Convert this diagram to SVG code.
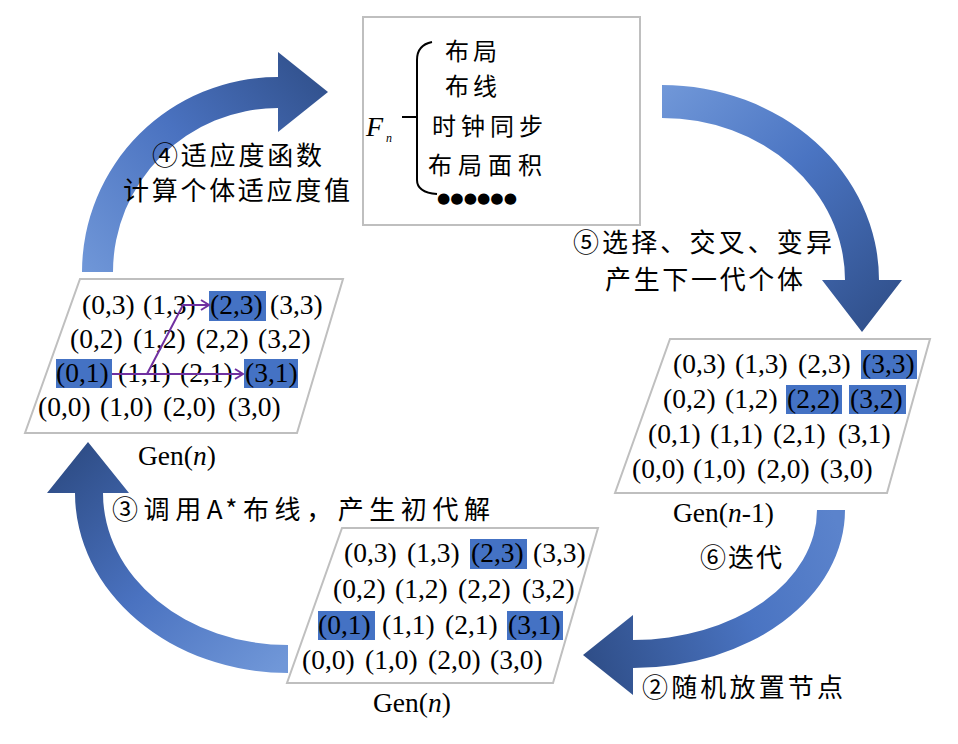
<svg xmlns="http://www.w3.org/2000/svg" width="958" height="744" viewBox="0 0 958 744">
<style>
.cn{font-family:"Noto Sans CJK SC","Noto Sans",sans-serif;fill:#000}
.lbl{font-size:26px}
.box{font-size:24px}
.num{font-family:"Liberation Serif","Times New Roman",serif;font-size:27.5px;fill:#000}
.frame{fill:#fff;stroke:#bfbfbf;stroke-width:2}
.hl{fill:#4472c4}
.pa{fill:none;stroke:#7030a0;stroke-width:2}
</style>
<defs>
<linearGradient id="g4" gradientUnits="userSpaceOnUse" x1="82" y1="272" x2="328" y2="60">
<stop offset="0" stop-color="#7097d8"/><stop offset="0.5" stop-color="#4a72c0"/><stop offset="1" stop-color="#2f4e88"/>
</linearGradient>
<linearGradient id="g5" gradientUnits="userSpaceOnUse" x1="662" y1="90" x2="890" y2="330">
<stop offset="0" stop-color="#7097d8"/><stop offset="0.45" stop-color="#4a74c2"/><stop offset="1" stop-color="#2f4e88"/>
</linearGradient>
<linearGradient id="g6" gradientUnits="userSpaceOnUse" x1="850" y1="560" x2="585" y2="655">
<stop offset="0" stop-color="#5b83cc"/><stop offset="0.4" stop-color="#4a74c2"/><stop offset="1" stop-color="#2f4e88"/>
</linearGradient>
<linearGradient id="g3" gradientUnits="userSpaceOnUse" x1="288" y1="660" x2="88" y2="442">
<stop offset="0" stop-color="#7097d8"/><stop offset="0.5" stop-color="#4a72c0"/><stop offset="1" stop-color="#2f4e88"/>
</linearGradient>
<marker id="pm" markerUnits="userSpaceOnUse" markerWidth="12" markerHeight="12" refX="9" refY="6" orient="auto">
<path d="M1,1 L9,6 L1,11" fill="none" stroke="#7030a0" stroke-width="2"/>
</marker>
</defs>
<rect width="958" height="744" fill="#fff"/>

<g id="connectors">
<path id="arrow4" d="M82,272 A196,195 0 0 1 278,77 L278,52 L328,92 L278,132 L278,108 A165,164 0 0 0 113,272 Z" fill="url(#g4)"/>
<path id="arrow5" d="M662,85 A217,195 0 0 1 879,280 L902,280 L862,332 L822,280 L845,280 A183,162 0 0 0 662,118 Z" fill="url(#g5)"/>
<path id="arrow6" d="M845,510 A212,158 0 0 1 633,668 L633,695 L583,655 L633,615 L633,640 A184,130 0 0 0 817,510 Z" fill="url(#g6)"/>
<path id="arrow3" d="M288,673 A213,180 0 0 1 75,493 L47,493 L88,442 L129,493 L103,493 A185,152 0 0 0 288,645 Z" fill="url(#g3)"/>
</g>

<g id="fitness-box">
<rect x="363" y="17" width="277" height="208" class="frame"/>
<text x="366" y="136" font-family="Liberation Serif, serif" font-style="italic" font-size="28">F</text>
<text x="386" y="142" font-family="Liberation Serif, serif" font-style="italic" font-size="12">n</text>
<path d="M402,117 L417,117 M432,42 C422,44 417,50 417,60 L417,180 C417,188 424,193 437,194" fill="none" stroke="#000" stroke-width="2"/>
<text class="cn box" x="445" y="60" textLength="52">布局</text>
<text class="cn box" x="445" y="95" textLength="52">布线</text>
<text class="cn box" x="432" y="135" textLength="111">时钟同步</text>
<text class="cn box" x="428" y="174" textLength="114">布局面积</text>
<text x="437" y="203" font-family="DejaVu Sans, sans-serif" font-size="15" textLength="80" lengthAdjust="spacingAndGlyphs">●●●●●●</text>
</g>

<g id="label4">
<text class="cn lbl" x="152" y="165" textLength="170">④适应度函数</text>
<text class="cn lbl" x="123" y="200" textLength="227">计算个体适应度值</text>
</g>
<g id="label5">
<text class="cn lbl" x="573" y="252" textLength="259">⑤选择、交叉、变异</text>
<text class="cn lbl" x="605" y="289" textLength="198">产生下一代个体</text>
</g>
<g id="label6">
<text class="cn lbl" x="700" y="567" textLength="82">⑥迭代</text>
</g>
<g id="label2">
<text class="cn lbl" x="642" y="697" textLength="201">②随机放置节点</text>
</g>
<g id="label3">
<text class="cn lbl" x="112" y="519" textLength="378">③调用A*布线，产生初代解</text>
</g>

<g id="gen-left">
<polygon points="80,279 343,279 297,433 25,433" class="frame"/>
<rect class="hl" x="209" y="291" width="57" height="30"/>
<rect class="hl" x="56" y="359" width="56" height="29"/>
<rect class="hl" x="244" y="359" width="54" height="29"/>
<text class="num" y="314"><tspan x="82">(0,3)</tspan><tspan x="143">(1,3)</tspan><tspan x="210">(2,3)</tspan><tspan x="270">(3,3)</tspan></text>
<text class="num" y="348"><tspan x="70">(0,2)</tspan><tspan x="133">(1,2)</tspan><tspan x="196">(2,2)</tspan><tspan x="258">(3,2)</tspan></text>
<text class="num" y="382"><tspan x="56">(0,1)</tspan><tspan x="118">(1,1)</tspan><tspan x="180">(2,1)</tspan><tspan x="245">(3,1)</tspan></text>
<text class="num" y="416"><tspan x="38">(0,0)</tspan><tspan x="100">(1,0)</tspan><tspan x="163">(2,0)</tspan><tspan x="228">(3,0)</tspan></text>
<path class="pa" d="M112,374 L243,374" marker-end="url(#pm)"/>
<path class="pa" d="M147,374 L183,305 L209,305" marker-end="url(#pm)"/>
<text class="num" x="138" y="465">Gen(<tspan font-style="italic">n</tspan>)</text>
</g>

<g id="gen-right">
<polygon points="670,339 930,339 887,493 615,493" class="frame"/>
<rect class="hl" x="861" y="350" width="56" height="29"/>
<rect class="hl" x="786" y="385" width="56" height="29"/>
<rect class="hl" x="849" y="385" width="57" height="29"/>
<text class="num" y="373"><tspan x="673">(0,3)</tspan><tspan x="735">(1,3)</tspan><tspan x="798">(2,3)</tspan><tspan x="862">(3,3)</tspan></text>
<text class="num" y="408"><tspan x="663">(0,2)</tspan><tspan x="725">(1,2)</tspan><tspan x="787">(2,2)</tspan><tspan x="850">(3,2)</tspan></text>
<text class="num" y="443"><tspan x="648">(0,1)</tspan><tspan x="710">(1,1)</tspan><tspan x="773">(2,1)</tspan><tspan x="838">(3,1)</tspan></text>
<text class="num" y="478"><tspan x="632">(0,0)</tspan><tspan x="693">(1,0)</tspan><tspan x="757">(2,0)</tspan><tspan x="820">(3,0)</tspan></text>
<text class="num" x="673" y="522">Gen(<tspan font-style="italic">n</tspan>-1)</text>
</g>

<g id="gen-bottom">
<polygon points="342,528 598,528 553,683 287,683" class="frame"/>
<rect class="hl" x="470" y="539" width="57" height="30"/>
<rect class="hl" x="318" y="611" width="57" height="29"/>
<rect class="hl" x="507" y="611" width="56" height="29"/>
<text class="num" y="562"><tspan x="344">(0,3)</tspan><tspan x="407">(1,3)</tspan><tspan x="471">(2,3)</tspan><tspan x="533">(3,3)</tspan></text>
<text class="num" y="598"><tspan x="333">(0,2)</tspan><tspan x="395">(1,2)</tspan><tspan x="458">(2,2)</tspan><tspan x="522">(3,2)</tspan></text>
<text class="num" y="634"><tspan x="318">(0,1)</tspan><tspan x="382">(1,1)</tspan><tspan x="445">(2,1)</tspan><tspan x="508">(3,1)</tspan></text>
<text class="num" y="669"><tspan x="302">(0,0)</tspan><tspan x="365">(1,0)</tspan><tspan x="428">(2,0)</tspan><tspan x="490">(3,0)</tspan></text>
<text class="num" x="373" y="712">Gen(<tspan font-style="italic">n</tspan>)</text>
</g>
</svg>
